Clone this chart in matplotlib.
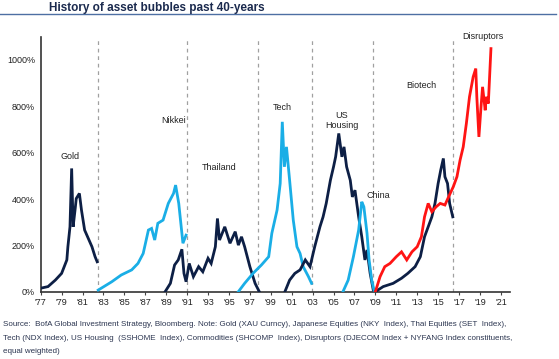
import matplotlib.pyplot as plt
from matplotlib.lines import Line2D

# ---------------------------------------------------------------------------
# Data (% gain from start of each bubble)
# ---------------------------------------------------------------------------
gold_years = [1977.0, 1977.7, 1978.4, 1979.0, 1979.5, 1979.6, 1979.8, 1979.96,
              1980.1, 1980.3, 1980.4, 1980.7, 1980.9, 1981.2, 1981.55, 1981.9,
              1982.2, 1982.4]
gold_vals = [15, 22, 50, 79, 137, 194, 280, 532, 280, 359, 402, 424, 352, 266,
             230, 194, 151, 129]

nikkei_years = [1982.5, 1983.8, 1984.7, 1985.7, 1986.3, 1986.8, 1987.3, 1987.6,
                1987.9, 1988.2, 1988.7, 1989.2, 1989.7, 1989.9, 1990.2, 1990.5,
                1990.6, 1990.9]
nikkei_vals = [7, 43, 72, 94, 122, 165, 266, 273, 223, 295, 309, 381, 424, 460,
               381, 252, 209, 244]

thai_years = [1988.9, 1989.4, 1989.8, 1990.15, 1990.5, 1990.7, 1990.9, 1991.2,
              1991.6, 1992.1, 1992.5, 1993.0, 1993.3, 1993.7, 1993.9, 1994.1,
              1994.6, 1995.1, 1995.6, 1995.9, 1996.2, 1996.5, 1997.0, 1997.5,
              1997.9]
thai_vals = [0, 36, 115, 137, 183, 79, 43, 122, 65, 108, 86, 144, 122, 194, 316,
             223, 280, 209, 259, 201, 237, 194, 108, 36, 0]

tech_years = [1995.9, 1996.5, 1997.3, 1998.1, 1998.8, 1999.1, 1999.6, 1999.9,
              2000.1, 2000.3, 2000.5, 2000.8, 2001.15, 2001.5, 2001.8, 2002.1,
              2002.6, 2002.9]
tech_vals = [0, 36, 79, 115, 151, 252, 352, 467, 733, 539, 625, 481, 309, 194,
             165, 108, 65, 36]

housing_years = [2000.35, 2000.8, 2001.3, 2001.8, 2002.3, 2002.75, 2003.2,
                 2003.7, 2004.0, 2004.3, 2004.7, 2005.0, 2005.2, 2005.5, 2005.8,
                 2006.0, 2006.25, 2006.6, 2006.8, 2007.05, 2007.4, 2007.7,
                 2008.0, 2008.2, 2008.5, 2008.8]
housing_vals = [0, 50, 79, 94, 137, 108, 194, 280, 323, 381, 481, 539, 582, 683,
                582, 625, 539, 481, 409, 438, 323, 237, 137, 180, 79, 7]

china_years = [2005.9, 2006.4, 2006.9, 2007.4, 2007.7, 2007.9, 2008.2, 2008.4,
               2008.65, 2008.9]
china_vals = [0, 50, 151, 266, 388, 366, 252, 137, 50, 0]

biotech_years = [2009.0, 2009.75, 2010.7, 2011.5, 2012.1, 2012.8, 2013.3,
                 2013.7, 2014.05, 2014.4, 2014.7, 2015.0, 2015.25, 2015.5,
                 2015.65, 2015.9, 2016.1, 2016.4]
biotech_vals = [0, 22, 36, 58, 79, 108, 151, 237, 280, 323, 381, 467, 525, 575,
                496, 467, 381, 323]

disrupt_years = [2009.0, 2009.45, 2009.9, 2010.4, 2011.0, 2011.5, 2012.0,
                 2012.5, 2013.0, 2013.4, 2013.7, 2014.05, 2014.4, 2014.8,
                 2015.2, 2015.65, 2016.0, 2016.45, 2016.8, 2017.1, 2017.4,
                 2017.7, 2018.0, 2018.35, 2018.6, 2018.7, 2018.9, 2019.1,
                 2019.25, 2019.5, 2019.6, 2019.8, 2020.05]
disrupt_vals = [0, 65, 108, 122, 151, 172, 137, 172, 194, 237, 323, 381, 345,
                366, 381, 374, 409, 453, 496, 568, 625, 726, 841, 927, 963, 841,
                668, 797, 884, 783, 841, 812, 1049]

divider_years = [1982.45, 1990.96, 1997.8, 2002.9, 2008.8, 2016.4]

tick_years = list(range(1977, 2022, 2))
tick_labels = ["'" + str(y)[2:] for y in tick_years]
y_ticks = [0, 200, 400, 600, 800, 1000]

labels = [("Gold", 1979.8, 582), ("Nikkei", 1989.7, 737),
          ("Thailand", 1994.1, 534), ("Tech", 2000.1, 795),
          ("US\nHousing", 2005.8, 740), ("China", 2009.3, 416),
          ("Biotech", 2013.4, 890), ("Disruptors", 2019.3, 1101)]

# ---------------------------------------------------------------------------
# Styling
# ---------------------------------------------------------------------------
NAVY = "#0d1f45"
LIGHT = "#1aaee6"
RED = "#ff1414"
TXT = "#222222"

plt.rcParams["font.family"] = ["Liberation Sans", "DejaVu Sans"]

fig = plt.figure(figsize=(5.59, 3.59), dpi=100)
ax = fig.add_axes([0.0728, 0.1875, 0.8395, 0.710])

for yrs, vals, col in [(gold_years, gold_vals, NAVY),
                       (nikkei_years, nikkei_vals, LIGHT),
                       (thai_years, thai_vals, NAVY),
                       (tech_years, tech_vals, LIGHT),
                       (housing_years, housing_vals, NAVY),
                       (china_years, china_vals, LIGHT),
                       (biotech_years, biotech_vals, NAVY),
                       (disrupt_years, disrupt_vals, RED)]:
    ax.plot(yrs, vals, color=col, lw=2.0, solid_joinstyle="miter", zorder=3)

for x in divider_years:
    ax.axvline(x, color="#a0a0a0", lw=0.9, ls=(0, (3, 3)), zorder=1)

for text, x, y in labels:
    ax.text(x, y, text, ha="center", va="center", fontsize=6.5, color=TXT,
            linespacing=1.1, clip_on=False)

ax.set_xlim(1977, 2021.87)
ax.set_ylim(0, 1100)
ax.set_xticks(tick_years)
ax.set_xticklabels(tick_labels)
ax.set_yticks(y_ticks)
ax.set_yticklabels([f"{v}%" for v in y_ticks])
ax.tick_params(axis="x", length=2.5, width=0.8, color="#444444",
               labelsize=6.5, labelcolor=TXT, pad=2)
ax.tick_params(axis="y", length=0, labelsize=6.5, labelcolor=TXT, pad=4)
for s in ["top", "right"]:
    ax.spines[s].set_visible(False)
for s in ["left", "bottom"]:
    ax.spines[s].set_color("#333333")
    ax.spines[s].set_linewidth(1.2)

# Title and rule
fig.text(0.088, 0.968, "History of asset bubbles past 40-years",
         fontsize=8.5, fontweight="bold", color="#1b2a4e", va="baseline")
fig.add_artist(Line2D([0.0, 0.995], [0.96, 0.96], color="#4d6fa3", lw=1.0,
                      transform=fig.transFigure))

# Footer
footer = ("Source:  BofA Global Investment Strategy, Bloomberg. Note: Gold (XAU Curncy), "
          "Japanese Equities (NKY  Index), Thai Equities (SET  Index),\n"
          "Tech (NDX Index), US Housing  (SSHOME  Index), Commodities (SHCOMP  Index), "
          "Disruptors (DJECOM Index + NYFANG Index constituents,\n"
          "equal weighted)")
fig.text(0.006, 0.105, footer, fontsize=5.8, color="#2b3550", va="top",
         linespacing=2.25)

fig.savefig("out.png", dpi=100)
